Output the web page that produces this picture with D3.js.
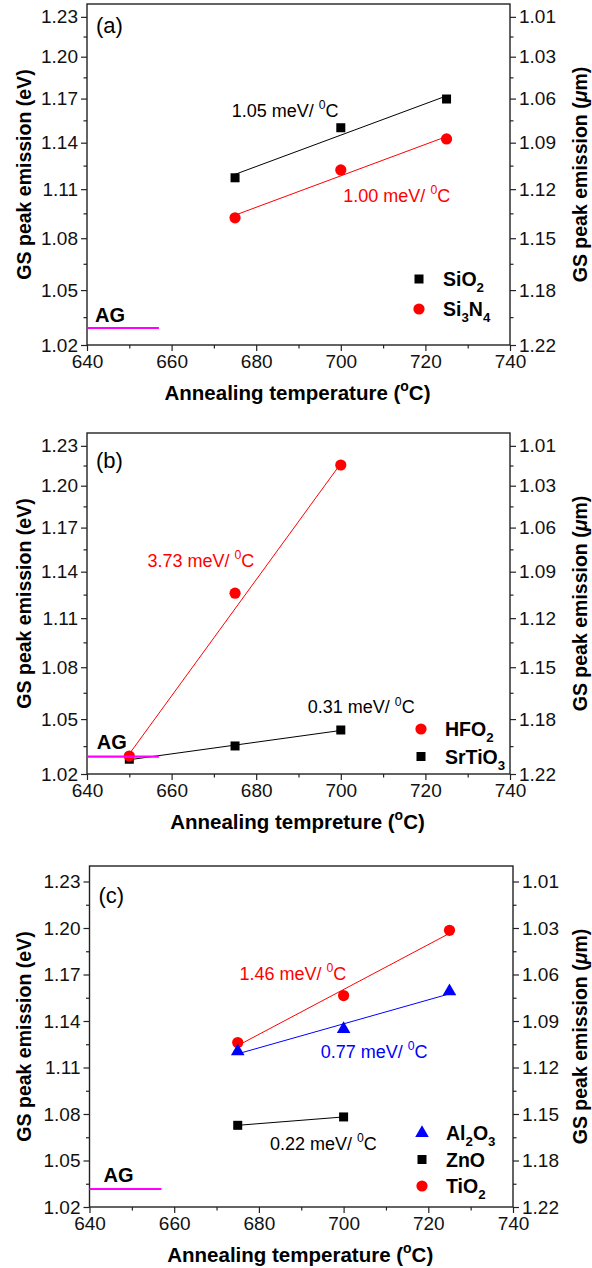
<!DOCTYPE html>
<html>
<head>
<meta charset="utf-8">
<script src="https://cdn.jsdelivr.net/npm/d3@7"></script>
<style>
body { margin: 0; background: #fff; }
svg { display: block; font-family: "Liberation Sans", Arial, sans-serif; }
</style>
</head>
<body>
<svg id="chart" width="592" height="1268"></svg>
<script>
// ---- values ----
var eTicks = [1.02, 1.05, 1.08, 1.11, 1.14, 1.17, 1.20, 1.23];
var eMinor = [1.035, 1.065, 1.095, 1.125, 1.155, 1.185, 1.215];
var tTicks = [640, 660, 680, 700, 720, 740];
var tMinor = [650, 670, 690, 710, 730];

// (a)
var tempA  = [675, 700, 725];
var sio2   = [1.1172, 1.1500, 1.1697];
var si3n4  = [1.0923, 1.1222, 1.1425];
// (b)
var tempB  = [650, 675, 700];
var hfo2   = [1.0296, 1.1259, 1.2154];
var srtio3 = [1.0279, 1.0351, 1.0439];
// (c)
var tempC  = [675, 700, 725];
var al2o3  = [1.1205, 1.1348, 1.1592];
var tempZn = [675, 700];
var zno    = [1.0727, 1.0781];
var tio2   = [1.1261, 1.1564, 1.1985];

// as-grown reference level
var agTemp = [640, 657];
var agA = 1.0291, agB = 1.0293, agC = 1.0316;

var hc = 1.24; // eV*um

var RED = "#ff0000", BLUE = "#0000ff", BLACK = "#000000", MAGENTA = "#ff00ff";

var panels = [
  { tag: "(a)", left: 87, right: 510, top: 4, bottom: 345, mode: "lambda", tagDy: 29,
    xTitle: "Annealing temperature", ag: agA,
    series: [
      { t: tempA, e: sio2, shape: "square", color: BLACK },
      { t: tempA, e: si3n4, shape: "circle", color: RED }
    ],
    notes: [
      { t: 674.2, e: 1.1575, txt: "1.05", color: BLACK },
      { t: 700.6, e: 1.1022, txt: "1.00", color: RED }
    ],
    agText: [641.9, 1.0323],
    legend: { x: 419, y: 279, gap: 30, items: [
      { shape: "square", color: BLACK, parts: [["SiO"], ["2", "sub"]] },
      { shape: "circle", color: RED, parts: [["Si"], ["3", "sub"], ["N"], ["4", "sub"]] }
    ] }
  },
  { tag: "(b)", left: 87, right: 510, top: 433, bottom: 774, mode: "lambda", tagDy: 35,
    xTitle: "Annealing tempreture", ag: agB,
    series: [
      { t: tempB, e: srtio3, shape: "square", color: BLACK },
      { t: tempB, e: hfo2, shape: "circle", color: RED }
    ],
    notes: [
      { t: 654.3, e: 1.1433, txt: "3.73", color: RED },
      { t: 692.2, e: 1.0533, txt: "0.31", color: BLACK }
    ],
    agText: [642.3, 1.0333],
    legend: { x: 421, y: 729, gap: 27.5, items: [
      { shape: "circle", color: RED, parts: [["HFO"], ["2", "sub"]] },
      { shape: "square", color: BLACK, parts: [["SrTiO"], ["3", "sub"]] }
    ] }
  },
  { tag: "(c)", left: 89.5, right: 513, top: 866, bottom: 1207, mode: "energy", tagDy: 37,
    xTitle: "Annealing temperature", ag: agC,
    series: [
      { t: tempZn, e: zno, shape: "square", color: BLACK },
      { t: tempC, e: tio2, shape: "circle", color: RED },
      { t: tempC, e: al2o3, shape: "triangle", color: BLUE }
    ],
    notes: [
      { t: 675.4, e: 1.1665, txt: "1.46", color: RED },
      { t: 694.6, e: 1.1163, txt: "0.77", color: BLUE },
      { t: 682.6, e: 1.0568, txt: "0.22", color: BLACK }
    ],
    agText: [643.3, 1.0363],
    legend: { x: 422, y: 1133, gap: 26.5, items: [
      { shape: "triangle", color: BLUE, parts: [["Al"], ["2", "sub"], ["O"], ["3", "sub"]] },
      { shape: "square", color: BLACK, parts: [["ZnO"]] },
      { shape: "circle", color: RED, parts: [["TiO"], ["2", "sub"]] }
    ] }
  }
];

var svg = d3.select("#chart");
var fmt = d3.format(".2f");

// text with sub/superscripts and italics
function rich(text, parts, size) {
  var shift = 0;
  parts.forEach(function (p) {
    var ts = text.append("tspan").text(p[0]);
    var target = p[1] == "sub" ? size * 0.32 : p[1] == "sup" ? -size * 0.42 : 0;
    if (target != shift) { ts.attr("dy", target - shift); shift = target; }
    if (p[1] == "sub" || p[1] == "sup") ts.attr("font-size", size * 0.68);
    if (p[1] == "i") ts.attr("font-style", "italic");
  });
  return text;
}

function marker(g, shape, x, y, color) {
  if (shape == "circle") {
    g.append("circle").attr("cx", x).attr("cy", y).attr("r", 5.6).attr("fill", color);
  } else if (shape == "square") {
    g.append("rect").attr("x", x - 4.5).attr("y", y - 4.5).attr("width", 9).attr("height", 9).attr("fill", color);
  } else {
    g.append("path").attr("d", d3.symbol(d3.symbolTriangle, 80)())
      .attr("transform", "translate(" + x + "," + y + ")").attr("fill", color);
  }
}

// least squares line of E against T
function fit(ts, es) {
  var mt = d3.mean(ts), me = d3.mean(es);
  var num = d3.sum(ts, function (t, i) { return (t - mt) * (es[i] - me); });
  var den = d3.sum(ts, function (t) { return (t - mt) * (t - mt); });
  var b = num / den;
  var t0 = d3.min(ts), t1 = d3.max(ts);
  return [[t0, me + b * (t0 - mt)], [t1, me + b * (t1 - mt)]];
}

panels.forEach(function (p) {
  var g = svg.append("g");
  var x = d3.scaleLinear().domain([640, 740]).range([p.left, p.right]);
  var yAxisScale, y;
  if (p.mode == "lambda") {
    // axis is linear in wavelength
    yAxisScale = d3.scaleLinear().domain([hc / 1.02, hc / 1.24]).range([p.bottom, p.top]);
    y = function (e) { return yAxisScale(hc / e); };
  } else {
    yAxisScale = d3.scaleLinear().domain([1.02, 1.24]).range([p.bottom, p.top]);
    y = yAxisScale;
  }
  var conv = p.mode == "lambda" ? function (e) { return hc / e; } : function (e) { return e; };
  var majorVals = eTicks.map(conv), minorVals = eMinor.map(conv);
  var fromAxis = p.mode == "lambda" ? function (v) { return hc / v; } : function (v) { return v; };

  function styleAxis(a) {
    a.select(".domain").remove();
    a.selectAll("line").attr("stroke", "#222").attr("stroke-width", 1.2);
    a.selectAll("text").attr("font-size", 19).attr("fill", "#111")
      .attr("font-family", "'Liberation Sans', Arial, sans-serif");
  }

  // left axis
  g.append("g").attr("transform", "translate(" + p.left + ",0)")
    .call(d3.axisLeft(yAxisScale).tickValues(minorVals).tickSize(3.5).tickFormat(""))
    .call(styleAxis);
  g.append("g").attr("transform", "translate(" + p.left + ",0)")
    .call(d3.axisLeft(yAxisScale).tickValues(majorVals).tickSize(6).tickPadding(3)
      .tickFormat(function (v) { return fmt(fromAxis(v)); }))
    .call(styleAxis);
  // right axis, wavelength labels
  g.append("g").attr("transform", "translate(" + p.right + ",0)")
    .call(d3.axisRight(yAxisScale).tickValues(minorVals).tickSize(3.5).tickFormat(""))
    .call(styleAxis);
  g.append("g").attr("transform", "translate(" + p.right + ",0)")
    .call(d3.axisRight(yAxisScale).tickValues(majorVals).tickSize(6).tickPadding(3)
      .tickFormat(function (v) { return fmt(hc / fromAxis(v)); }))
    .call(styleAxis);
  // bottom axis
  g.append("g").attr("transform", "translate(0," + p.bottom + ")")
    .call(d3.axisBottom(x).tickValues(tMinor).tickSize(3.5).tickFormat(""))
    .call(styleAxis);
  g.append("g").attr("transform", "translate(0," + p.bottom + ")")
    .call(d3.axisBottom(x).tickValues(tTicks).tickSize(6).tickPadding(4))
    .call(styleAxis);

  // frame
  g.append("rect").attr("x", p.left).attr("y", p.top)
    .attr("width", p.right - p.left).attr("height", p.bottom - p.top)
    .attr("fill", "none").attr("stroke", "#222").attr("stroke-width", 1.4);

  // fit lines
  p.series.forEach(function (s) {
    var f = fit(s.t, s.e);
    g.append("line")
      .attr("x1", x(f[0][0])).attr("y1", y(f[0][1]))
      .attr("x2", x(f[1][0])).attr("y2", y(f[1][1]))
      .attr("stroke", s.color).attr("stroke-width", 1);
  });
  // markers
  p.series.forEach(function (s) {
    s.t.forEach(function (t, i) { marker(g, s.shape, x(t), y(s.e[i]), s.color); });
  });

  // AG level
  g.append("line")
    .attr("x1", x(agTemp[0])).attr("x2", x(agTemp[1]))
    .attr("y1", y(p.ag)).attr("y2", y(p.ag))
    .attr("stroke", MAGENTA).attr("stroke-width", 2.2);
  g.append("text").attr("x", x(p.agText[0])).attr("y", y(p.agText[1]))
    .attr("font-size", 20).attr("font-weight", "bold").text("AG");

  // slope notes
  p.notes.forEach(function (n) {
    var t = g.append("text").attr("x", x(n.t)).attr("y", y(n.e))
      .attr("font-size", 18).attr("fill", n.color);
    rich(t, [[n.txt + " meV/ "], ["0", "sup"], ["C"]], 18);
  });

  // panel tag
  g.append("text").attr("x", p.left + 9).attr("y", p.top + p.tagDy)
    .attr("font-size", 22).text(p.tag);

  // legend
  p.legend.items.forEach(function (it, i) {
    var ly = p.legend.y + i * p.legend.gap;
    marker(g, it.shape, p.legend.x, ly, it.color);
    var t = g.append("text").attr("x", p.legend.x + 24).attr("y", ly + 7)
      .attr("font-size", 19.5).attr("font-weight", "bold");
    rich(t, it.parts, 19.5);
  });

  // axis titles
  var xt = g.append("text").attr("x", (p.left + p.right) / 2 - 1).attr("y", p.bottom + 55)
    .attr("text-anchor", "middle").attr("font-size", 20.5).attr("font-weight", "bold");
  rich(xt, [[p.xTitle + " ("], ["o", "sup"], ["C)"]], 20.5);

  var cy = (p.top + p.bottom) / 2;
  g.append("text").attr("transform", "translate(31," + cy + ") rotate(-90)")
    .attr("text-anchor", "middle").attr("font-size", 19.5).attr("font-weight", "bold")
    .text("GS peak emission (eV)");
  var rt = g.append("text").attr("transform", "translate(587," + cy + ") rotate(-90)")
    .attr("text-anchor", "middle").attr("font-size", 19.5).attr("font-weight", "bold");
  rich(rt, [["GS peak emission ("], ["\u03bc", "i"], ["m)"]], 19.5);
});
</script>
</body>
</html>
